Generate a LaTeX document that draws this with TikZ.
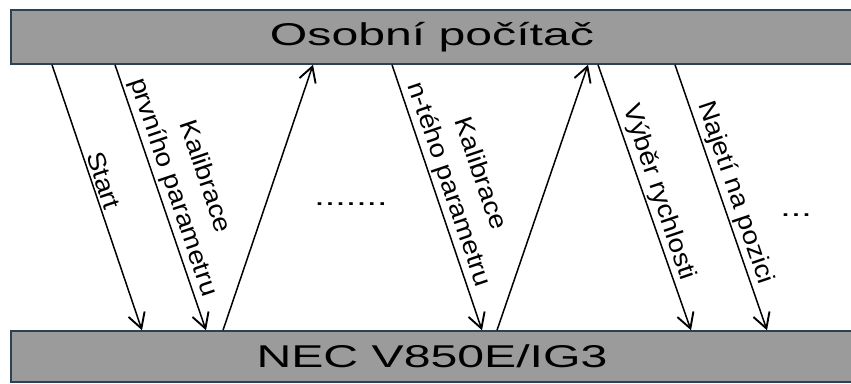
\documentclass[tikz,border=0pt]{standalone}
\usepackage{fontspec}
\setmainfont{Liberation Sans}
\usepackage{graphicx}
\usepackage{tikz}
\usetikzlibrary{positioning}
\usetikzlibrary{arrows.meta}
\usetikzlibrary{calc}

\definecolor{barfill}{RGB}{155,155,155}
\definecolor{barline}{RGB}{45,65,85}

\begin{document}
\begin{tikzpicture}[x=1pt, y=-1pt,
	bar/.style = {draw=barline, line width=1.5pt, fill=barfill, inner sep=0pt},
	msg/.style = {line width=1.5pt, -{Straight Barb[length=15pt, width=17pt, line width=1.9pt]}},
	lbl/.style = {rotate=-71.3, xscale=1.12, transform shape, anchor=south, inner sep=2.5pt,
		align=center, font=\fontsize{25}{33}\selectfont},
	dots/.style = {font=\fontsize{26}{26}\selectfont}]
\useasboundingbox (0,0) rectangle (851,383);

% PC on top, controller at the bottom
\node[bar, minimum width=842pt, minimum height=54pt] (pc) at (432,37)
	{\fontsize{31.5}{31.5}\selectfont\scalebox{1.53}[1]{Osobní počítač}};
\node[bar, minimum width=842pt, minimum height=51pt] (nec) at (432,356.5)
	{\fontsize{31.5}{31.5}\selectfont\scalebox{1.53}[1]{NEC V850E/IG3}};

\draw[msg] (52,0 |- pc.south) -- (142,0 |- nec.north) node[lbl, pos=.45] {Start};
\draw[msg] (115,0 |- pc.south) -- (206,0 |- nec.north) node[lbl, pos=.48] {Kalibrace\\prvního parametru};
\draw[msg] (223,0 |- nec.north) -- (313,0 |- pc.south);

\node[dots] (gap1) at (351,204) {\scalebox{1.45}[1]{.......}};

\draw[msg] (392,0 |- pc.south) -- (482,0 |- nec.north) node[lbl, pos=.47] {Kalibrace\\n-tého parametru};
\draw[msg] (497,0 |- nec.north) -- (588,0 |- pc.south);
\draw[msg] (598,0 |- pc.south) -- (691,0 |- nec.north) node[lbl, pos=.5] {Výběr rychlosti};
\draw[msg] (675,0 |- pc.south) -- (767,0 |- nec.north) node[lbl, pos=.5] {Najetí na pozici};

\node[dots] (gap2) at (796,215) {\scalebox{1.45}[1]{...}};
\end{tikzpicture}
\end{document}
